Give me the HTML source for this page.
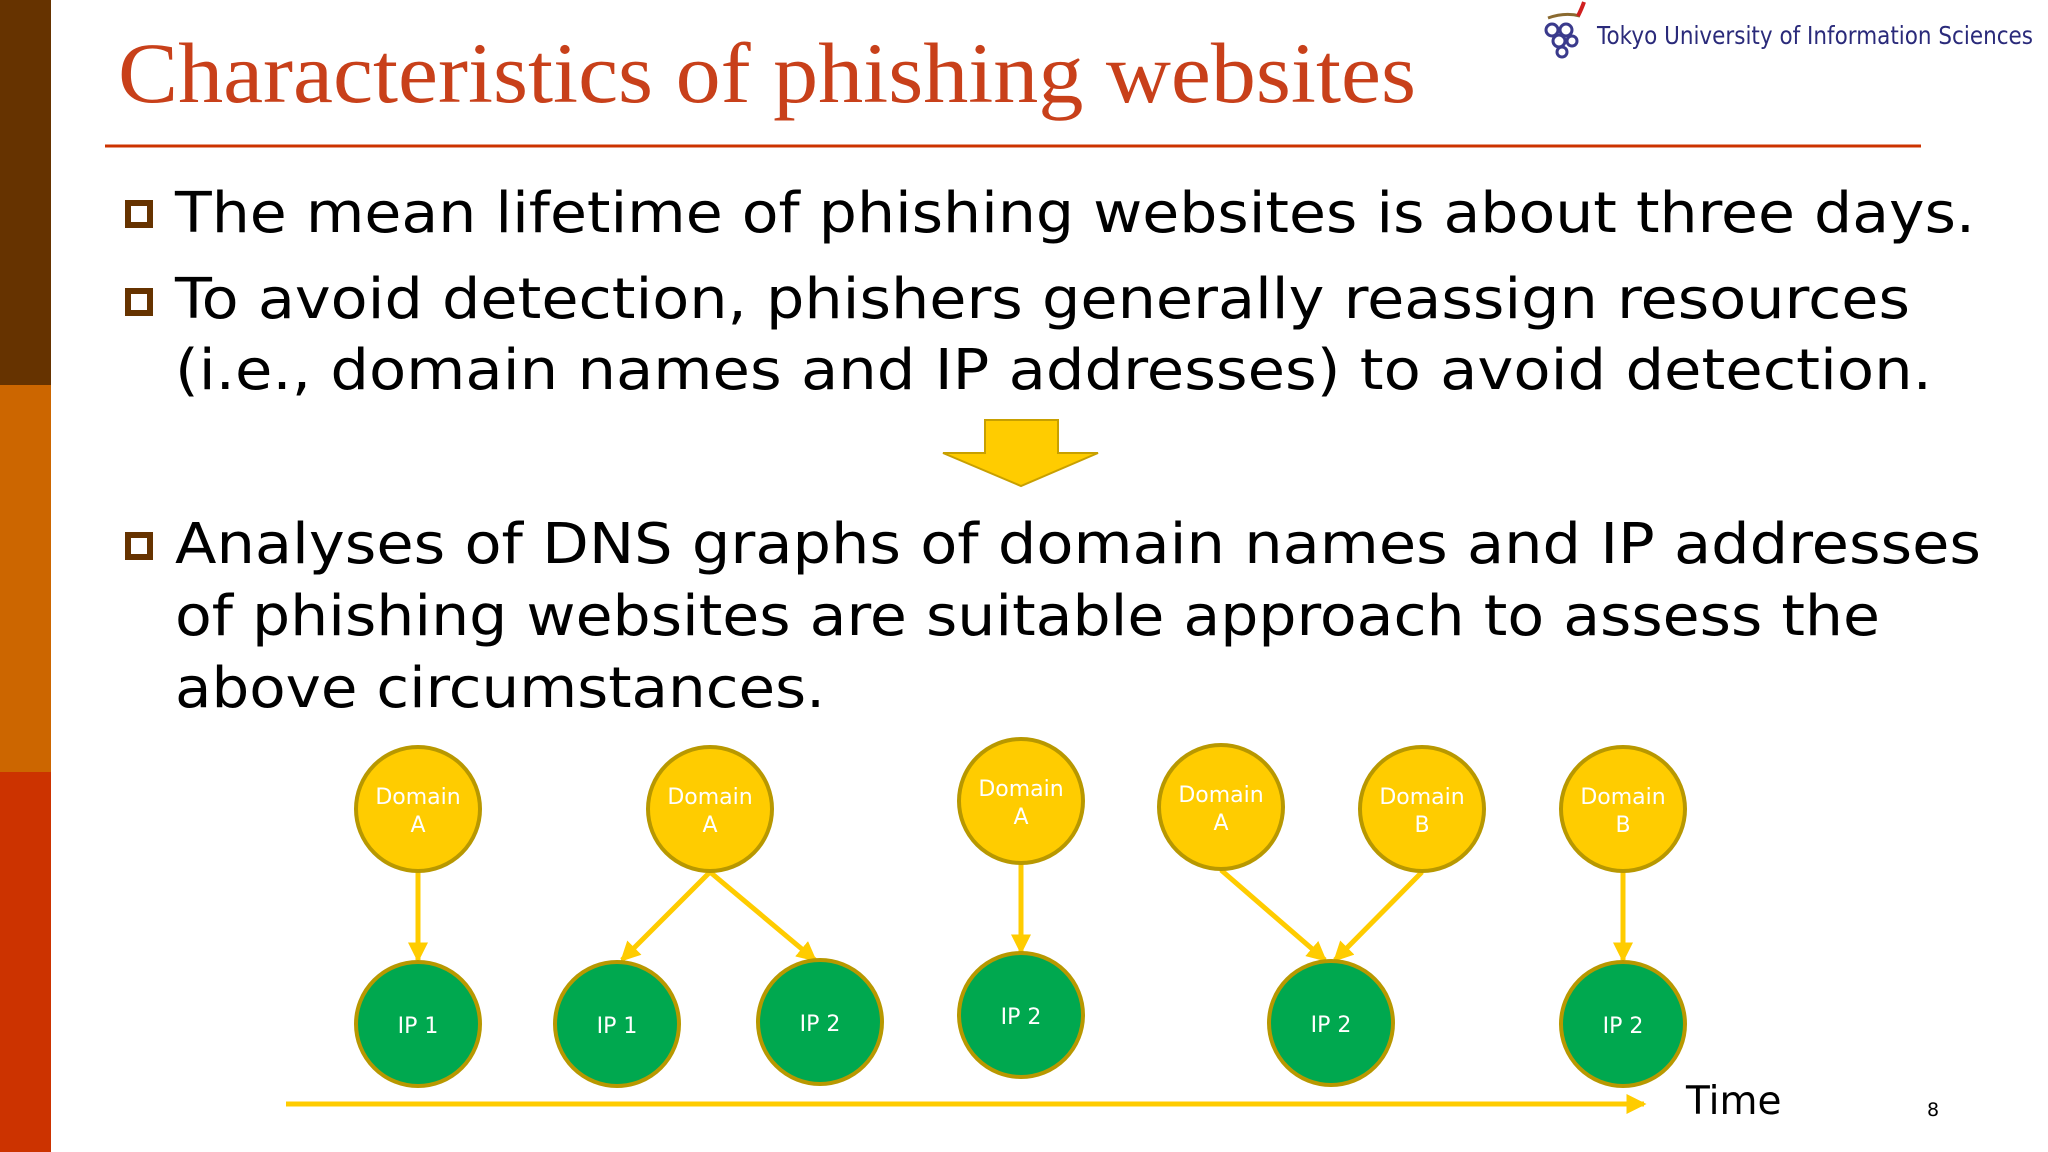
<!DOCTYPE html>
<html><head><meta charset="utf-8"><style>
html,body{margin:0;padding:0;background:#fff;}
svg{display:block;}
</style></head><body>
<svg width="2048" height="1152" viewBox="0 0 2048 1152" xmlns="http://www.w3.org/2000/svg">
<rect x="0" y="0" width="51" height="385" fill="#663300"/>
<rect x="0" y="385" width="51" height="387" fill="#CC6600"/>
<rect x="0" y="772" width="51" height="380" fill="#CC3300"/>
<text x="118" y="102" font-family="Liberation Serif, serif" font-size="86" fill="#C8401A" textLength="1298" lengthAdjust="spacingAndGlyphs">Characteristics of phishing websites</text>
<line x1="105" y1="146" x2="1921" y2="146" stroke="#CC3300" stroke-width="3"/>
<!-- logo -->
<g fill="none" stroke="#3a3a8c" stroke-width="3">
<circle cx="1552" cy="30" r="6"/><circle cx="1566" cy="30" r="6"/><circle cx="1559" cy="41" r="6"/><circle cx="1572" cy="41" r="5"/><circle cx="1562" cy="52" r="5"/>
</g>
<path d="M1548 18 Q1565 12 1580 16" stroke="#8a6a30" stroke-width="3" fill="none"/>
<path d="M1578 16 Q1582 8 1584 2" stroke="#d02020" stroke-width="4" fill="none"/>
<text x="1597" y="44" font-family="DejaVu Sans, sans-serif" font-size="25" fill="#2a2a7a" textLength="436" lengthAdjust="spacingAndGlyphs">Tokyo University of Information Sciences</text>
<!-- bullets -->
<g fill="none" stroke="#663300" stroke-width="6">
<rect x="128" y="203" width="22" height="22"/>
<rect x="128" y="291" width="22" height="22"/>
<rect x="128" y="535" width="22" height="22"/>
</g>
<g font-family="DejaVu Sans, Verdana, sans-serif" font-size="56" fill="#000">
<text x="175" y="232" textLength="1800" lengthAdjust="spacingAndGlyphs">The mean lifetime of phishing websites is about three days.</text>
<text x="175" y="318" textLength="1735" lengthAdjust="spacingAndGlyphs">To avoid detection, phishers generally reassign resources</text>
<text x="175" y="389" textLength="1757" lengthAdjust="spacingAndGlyphs">(i.e., domain names and IP addresses) to avoid detection.</text>
<text x="175" y="563" textLength="1806" lengthAdjust="spacingAndGlyphs">Analyses of DNS graphs of domain names and IP addresses</text>
<text x="175" y="635" textLength="1705" lengthAdjust="spacingAndGlyphs">of phishing websites are suitable approach to assess the</text>
<text x="175" y="707" textLength="650" lengthAdjust="spacingAndGlyphs">above circumstances.</text>
</g>
<!-- big arrow -->
<polygon points="985,420 1058,420 1058,453 1098,453 1021,486 943,453 985,453" fill="#FFCC00" stroke="#C8A000" stroke-width="2"/>
<!-- edges -->
<defs><marker id="ah" markerWidth="4" markerHeight="4" refX="3.5" refY="2" orient="auto" markerUnits="strokeWidth"><path d="M0,0 L4,2 L0,4 z" fill="#FFCC00"/></marker></defs>
<g stroke="#FFCC00" stroke-width="5" fill="none" marker-end="url(#ah)">
<line x1="418" y1="872" x2="418" y2="960"/>
<line x1="710" y1="872" x2="622" y2="960"/>
<line x1="710" y1="872" x2="815" y2="960"/>
<line x1="1021" y1="862" x2="1021" y2="952"/>
<line x1="1221" y1="870" x2="1325" y2="960"/>
<line x1="1422" y1="872" x2="1335" y2="960"/>
<line x1="1623" y1="872" x2="1623" y2="960"/>
<line x1="286" y1="1104" x2="1644" y2="1104"/>
</g>
<g stroke="#B89800" stroke-width="4" fill="#FFCC00">
<circle cx="418" cy="809" r="62"/><circle cx="710" cy="809" r="62"/><circle cx="1021" cy="801" r="62"/>
<circle cx="1221" cy="807" r="62"/><circle cx="1422" cy="809" r="62"/><circle cx="1623" cy="809" r="62"/>
</g>
<g stroke="#B89800" stroke-width="4" fill="#00A84F">
<circle cx="418" cy="1024" r="62"/><circle cx="617" cy="1024" r="62"/><circle cx="820" cy="1022" r="62"/>
<circle cx="1021" cy="1015" r="62"/><circle cx="1331" cy="1023" r="62"/><circle cx="1623" cy="1024" r="62"/>
</g>
<g font-family="DejaVu Sans, Verdana, sans-serif" font-size="22" fill="#fff" text-anchor="middle">
<text x="418" y="804">Domain</text><text x="418" y="832">A</text>
<text x="710" y="804">Domain</text><text x="710" y="832">A</text>
<text x="1021" y="796">Domain</text><text x="1021" y="824">A</text>
<text x="1221" y="802">Domain</text><text x="1221" y="830">A</text>
<text x="1422" y="804">Domain</text><text x="1422" y="832">B</text>
<text x="1623" y="804">Domain</text><text x="1623" y="832">B</text>
<text x="418" y="1033">IP 1</text><text x="617" y="1033">IP 1</text><text x="820" y="1031">IP 2</text>
<text x="1021" y="1024">IP 2</text><text x="1331" y="1032">IP 2</text><text x="1623" y="1033">IP 2</text>
</g>
<text x="1686" y="1114" font-family="DejaVu Sans, Verdana, sans-serif" font-size="39" fill="#000">Time</text>
<text x="1927" y="1116" font-family="DejaVu Sans, Verdana, sans-serif" font-size="19" fill="#000">8</text>
</svg>
</body></html>
